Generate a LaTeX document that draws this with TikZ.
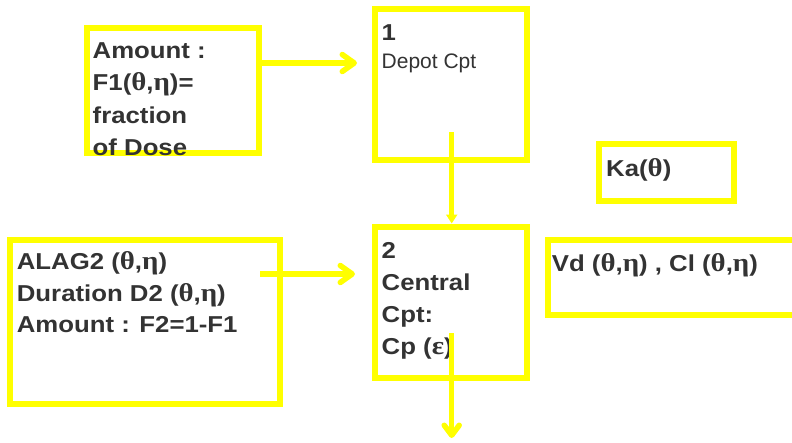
\documentclass[tikz,border=0pt]{standalone}
\usepackage{fontspec}
\setmainfont{Liberation Sans}
\newfontfamily\bwide{Liberation Sans}[FakeStretch=1.12]
\newfontfamily\gkfont{Liberation Serif}[Scale=1.12,FakeStretch=1.12]
\usetikzlibrary{arrows.meta}
\definecolor{yel}{RGB}{255,255,0}
\definecolor{txtc}{RGB}{51,51,51}
\newcommand{\gk}[1]{{\gkfont\bfseries #1}}
\begin{document}
\begin{tikzpicture}[x=1pt,y=-1pt,
  box/.style={draw=yel, line width=6pt, inner sep=0pt},
  txt/.style={anchor=base west, inner sep=0pt, text=txtc, font=\bwide\bfseries\fontsize{23}{32}\selectfont},
  smalltxt/.style={anchor=base west, inner sep=0pt, text=txtc, font=\fontsize{21}{24}\selectfont},
  arr/.style={draw=yel, line width=5.5pt, -{Straight Barb[length=12pt,width=17pt,round]}},
  arrsmall/.style={draw=yel, line width=5.5pt, -{Triangle[length=9pt,width=11pt]}},
  arrdown/.style={draw=yel, line width=5.5pt, -{Straight Barb[length=10pt,width=15pt,round]}},
]
\useasboundingbox (0,0) rectangle (792,442);
\clip (0,0) rectangle (792,442);
% boxes
\node[box, minimum width=172pt, minimum height=124.5pt] (A) at (173,90.25) {};
\node[box, minimum width=151.5pt, minimum height=151pt] (D1) at (450.75,84.5) {};
\node[box, minimum width=151.5pt, minimum height=151pt] (C2) at (450.75,302) {};
\node[box, minimum width=269.5pt, minimum height=164pt] (L) at (144.75,322) {};
\node[box, minimum width=134.5pt, minimum height=57pt] (K) at (666.25,172.5) {};
\node[box, minimum width=262pt, minimum height=75pt] (V) at (679,277.5) {};
% texts
\node[txt] (a1) at (92.5,58) {Amount :};
\node[txt] (a2) at (92.5,90.5) {F1(\gk{θ},\gk{η})=};
\node[txt] (a3) at (92.5,123) {fraction};
\node[txt] (a4) at (92.5,155.5) {of Dose};
\node[txt] (d1) at (381.5,40) {1};
\node[smalltxt] (d2) at (381.5,68) {Depot Cpt};
\node[txt] (c1) at (381.5,258) {2};
\node[txt] (c2) at (381.5,290) {Central};
\node[txt] (c3) at (381.5,322) {Cpt:};
\node[txt] (c4) at (381.5,354.5) {Cp (\gk{ε})};
\node[txt] (l1) at (16.7,269.5) {ALAG2 (\gk{θ},\gk{η})};
\node[txt] (l2) at (16.7,301) {Duration D2 (\gk{θ},\gk{η})};
\node[txt] (l3) at (16.7,332) {Amount : F2=1-F1};
\node[txt] (k1) at (606,176.5) {Ka(\gk{θ})};
\node[txt] (v1) at (551.7,271.5) {Vd (\gk{θ},\gk{η}) , Cl (\gk{θ},\gk{η})};
% connectors
\coordinate (ls) at (260,274);
\coordinate (ds) at (451.7,132);
\coordinate (cs) at (451.7,333);
\coordinate (out) at (451.7,438);
\draw[arr, shorten >=15pt] (A.east |- 0,63) -- (D1.west |- 0,63);
\draw[arrsmall] (ds) -- (ds |- C2.north);
\draw[arr, shorten >=17pt] (ls) -- (C2.west |- ls);
\draw[arrdown] (cs) -- (out);
\end{tikzpicture}
\end{document}
